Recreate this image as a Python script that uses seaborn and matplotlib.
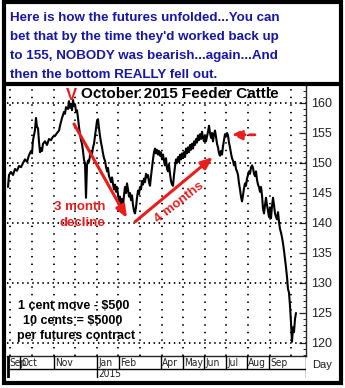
import numpy as np
import pandas as pd
import matplotlib
matplotlib.use("Agg")
import matplotlib.pyplot as plt
from matplotlib.patches import Rectangle
from matplotlib.lines import Line2D
from matplotlib import font_manager
from matplotlib.font_manager import FontProperties
import seaborn as sns

# ---- data: October 2015 Feeder Cattle, daily trading index vs price ----
trade_day = [0, 1, 3, 5, 7, 9, 11, 13, 15, 17, 19, 21, 23, 24, 25, 27, 28, 29, 30, 31,
             32, 33, 34, 35, 37, 39, 41, 43, 45, 47, 49, 51, 52, 54, 56, 57, 58, 60, 61, 62,
             63, 64, 65, 66, 67, 68, 69, 70, 71, 72, 73, 74, 75, 76, 77, 78, 79, 80, 81, 82,
             83, 84, 85, 86, 87, 88, 89, 90, 91, 92, 93, 94, 95, 96, 97, 98, 99, 100, 101, 102,
             103, 104, 105, 106, 107, 108, 109, 110, 111, 112, 113, 114, 115, 116, 117, 118, 119, 120, 121, 122,
             123, 124, 125, 126, 127, 128, 129, 130, 131, 132, 133, 134, 135, 136, 137, 138, 139, 140, 141, 142,
             143, 144, 145, 146, 147, 148, 149, 150, 151, 152, 153, 154, 155, 156, 157, 158, 159, 160, 161, 162,
             163, 164, 165, 166, 167, 168, 169, 170, 171, 172, 173, 174, 175, 176, 177, 178, 179, 180, 181, 182,
             183, 184, 185, 186, 187, 188, 189, 190, 191, 192, 193, 194, 195, 196, 197, 198, 199, 200, 201, 202,
             203, 204, 205, 206, 207, 208, 209, 210, 211, 212, 213, 214, 215, 216, 217, 218, 219, 220, 221, 222,
             223, 224, 225, 226, 227, 228, 229, 230, 231, 232, 233, 234, 235, 236, 237, 238, 239, 240, 241, 242,
             243, 244, 245, 246, 247, 248, 249, 250, 251, 252, 253, 254, 255, 256, 257, 258, 259, 260, 261, 262,
             263, 264, 265, 266, 267, 268, 269, 270, 271, 272, 273, 274, 275, 276, 277, 278, 279, 280, 281, 282,
             283, 284, 285, 286, 287, 288]
price = [146.0, 148.0, 148.5, 148.0, 149.0, 148.7, 149.5, 149.3, 150.0, 150.6, 150.2, 151.3, 152.0, 151.6, 153.8, 155.5, 157.5, 156.0, 155.8, 153.5,
         151.8, 152.5, 152.0, 153.2, 153.6, 153.0, 154.0, 153.8, 154.4, 154.5, 155.0, 155.4, 156.2, 157.5, 158.5, 158.2, 159.3, 159.0, 160.3, 159.2,
         159.8, 158.8, 160.5, 159.5, 159.8, 158.6, 158.8, 157.5, 156.0, 154.8, 153.8, 153.2, 152.0, 150.5, 150.0, 144.2, 149.6, 150.4, 150.2, 151.2,
         152.0, 151.5, 152.6, 153.2, 154.5, 155.8, 157.0, 157.3, 155.8, 154.5, 153.4, 152.6, 151.6, 150.8, 150.4, 149.4, 148.6, 149.2, 147.8, 147.4,
         146.8, 147.6, 146.5, 145.6, 146.4, 145.2, 146.0, 144.8, 143.6, 144.4, 143.2, 144.0, 142.8, 144.6, 146.0, 145.0, 146.6, 145.6, 144.4, 145.0,
         143.8, 144.6, 143.0, 142.0, 141.6, 142.6, 144.2, 145.4, 144.8, 146.0, 145.6, 147.0, 146.4, 147.4, 146.8, 148.2, 147.6, 148.0, 146.8, 146.2,
         147.8, 149.2, 150.6, 151.8, 152.4, 151.6, 152.2, 151.4, 152.0, 151.2, 151.8, 150.6, 151.4, 150.4, 149.6, 150.8, 149.0, 148.6, 149.8, 148.2,
         147.0, 146.4, 146.2, 148.0, 149.4, 150.6, 150.0, 151.0, 150.2, 151.4, 150.6, 151.6, 150.8, 151.8, 151.0, 152.4, 151.6, 152.6, 151.8, 153.0,
         152.2, 153.2, 152.4, 153.6, 153.0, 154.0, 153.4, 154.6, 153.8, 154.8, 154.0, 155.2, 154.2, 153.6, 154.6, 153.6, 154.4, 155.2, 156.2, 155.0,
         154.2, 155.0, 153.6, 154.8, 155.4, 154.4, 153.2, 152.6, 151.6, 151.2, 152.0, 151.4, 152.8, 153.8, 154.8, 154.4, 155.0, 154.6, 153.4, 152.6,
         151.6, 150.8, 150.4, 149.6, 150.2, 149.0, 148.6, 148.0, 146.6, 145.6, 144.4, 143.6, 144.6, 145.8, 146.6, 146.2, 147.4, 148.0, 148.6, 148.2,
         149.2, 149.6, 149.2, 148.2, 147.8, 148.6, 147.2, 146.4, 146.0, 145.2, 146.0, 144.6, 142.4, 141.6, 143.0, 144.2, 143.0, 142.0, 141.0, 142.6,
         140.8, 142.8, 144.2, 143.0, 141.6, 141.0, 140.6, 141.8, 140.2, 139.0, 138.4, 137.6, 136.6, 135.4, 134.0, 132.6, 131.0, 129.0, 128.4, 126.2,
         123.4, 120.2, 122.6, 121.8, 124.0, 125.0]

month_labels = ["Sep", "Oct", "Nov", "Jan", "Feb", "Apr", "May", "Jun", "Jul", "Aug", "Sep"]
month_pos = [0, 12, 46, 89, 111, 153, 175, 196, 218, 239, 261]
year_label = "2015"
year_pos = 89
grid_x = [2.4, 24, 45.6, 67.2, 88.8, 110.4, 132, 153.6, 175.2, 196.8, 218.4, 240, 261.6, 283.2]
grid_y = [120, 130, 140, 150, 160]
price_ticks = [120, 125, 130, 135, 140, 145, 150, 155, 160]

headline = ["Here is how the futures unfolded...You can",
            "bet that by the time they'd worked back up",
            "to 155, NOBODY was bearish...again...And",
            "then the bottom REALLY fell out."]

df = pd.DataFrame({"day": trade_day, "price": price})

sns.set_style("white")
plt.rcParams["font.family"] = ["Liberation Sans", "DejaVu Sans"]


def narrow_font(size):
    """Pick a condensed/narrow regular face for the crowded month row."""
    for f in font_manager.fontManager.ttflist:
        tag = (f.name + " " + str(f.stretch)).lower()
        if ("narrow" in tag or "condensed" in tag) and f.weight in (400, "normal", "regular") \
                and f.style == "normal":
            return FontProperties(fname=f.fname, size=size), True
    return FontProperties(family="Liberation Sans", size=size - 1.3), False


W, H = 345, 388
fig = plt.figure(figsize=(W / 100, H / 100), dpi=100)
fig.patch.set_facecolor("white")


def fx(px):
    return px / W


def fy(py):
    return 1 - py / H


RED = "#ec1c1c"
BLUE = "#1717a6"

# main price panel
ax = fig.add_axes([fx(7), fy(356), fx(306) - fx(7), fy(86) - fy(356)])
ax.set_xlim(-1, 298)
ax.set_ylim(117.83, 162.83)
ax.vlines(grid_x, 117.83, 162.83, colors="black", linewidths=1.3,
          linestyles=[(0, (0.8, 3.4))], zorder=2)
ax.hlines(grid_y, -1, 298, colors="black", linewidths=1.3,
          linestyles=[(0, (0.8, 2.0))], zorder=2)

sns.lineplot(data=df, x="day", y="price", ax=ax, color="black", linewidth=1.5,
             estimator=None, sort=False, zorder=3)
ax.set_xlim(-1, 298)
ax.set_ylim(117.83, 162.83)
ax.set_xlabel("")
ax.set_ylabel("")

ax.yaxis.tick_right()
ax.set_yticks(price_ticks)
ax.set_yticks(np.arange(118, 163, 1), minor=True)
ax.tick_params(axis="y", which="major", direction="in", length=5, width=0.9,
               labelsize=9, labelcolor="#222222", pad=4)
ax.tick_params(axis="y", which="minor", direction="in", length=2.5, width=0.7)
ax.set_xticks([])
for side in ["left", "top"]:
    ax.spines[side].set_visible(False)
ax.spines["right"].set_linewidth(1.0)
ax.spines["bottom"].set_linewidth(1.0)

# annotations
ax.text(63, 161.3, "V", color=RED, fontsize=12, fontweight="bold", ha="center", va="center")
ax.text(73, 161.5, "October 2015 Feeder Cattle", color="black", fontsize=11,
        fontweight="bold", ha="left", va="center")
ax.annotate("", xy=(119, 140.8), xytext=(66, 156.5),
            arrowprops=dict(arrowstyle="-|>,head_length=0.7,head_width=0.28", color=RED,
                            lw=2.2, shrinkA=0, shrinkB=0))
ax.annotate("", xy=(205, 151.0), xytext=(127, 140.2),
            arrowprops=dict(arrowstyle="-|>,head_length=0.7,head_width=0.28", color=RED,
                            lw=2.2, shrinkA=0, shrinkB=0))
ax.annotate("", xy=(224, 154.7), xytext=(247, 154.7),
            arrowprops=dict(arrowstyle="-|>,head_length=0.6,head_width=0.3", color=RED,
                            lw=2.0, ls=(0, (2, 1.5)), shrinkA=0, shrinkB=0))
ax.text(72, 142.6, "3 month", color=RED, fontsize=9.5, fontweight="bold", ha="center", va="center")
ax.text(74, 140.0, "decline", color=RED, fontsize=9.5, fontweight="bold", ha="center", va="center")
ax.text(171, 143.4, "4 months", color=RED, fontsize=9.5, fontweight="bold", ha="center",
        va="center", rotation=38, rotation_mode="anchor")
ax.text(10, 126.2, "1 cent move - $500", color="black", fontsize=9, fontweight="bold",
        ha="left", va="center")
ax.text(15, 123.7, "10 cents = $5000", color="black", fontsize=9, fontweight="bold",
        ha="left", va="center")
ax.text(9, 121.2, "per futures contract", color="black", fontsize=9, fontweight="bold",
        ha="left", va="center")

# date band below the price panel
month_fp, is_narrow = narrow_font(7.3)
band = fig.add_axes([fx(7), fy(378), fx(306) - fx(7), fy(356) - fy(378)], sharex=ax)
band.set_ylim(0, 22)
band.axis("off")
band.axhline(9, color="black", lw=1.0)
band.axvline(298, color="black", lw=1.0)
for lab, pos in zip(month_labels, month_pos):
    band.plot([pos, pos], [9, 22], color="black", lw=1.0)
    fp = month_fp
    offset = 1.0
    if not is_narrow:
        if pos == 0:
            fp = FontProperties(family="Liberation Sans", size=4.0)
            offset = 0.4
        elif pos == 12:
            offset = 2.6
    band.text(pos + offset, 15.3, lab, fontproperties=fp, ha="left",
              va="center", color="#222222")
band.plot([year_pos, year_pos], [0, 9], color="black", lw=1.0)
band.text(year_pos + 1, 4.3, year_label, fontproperties=month_fp, ha="left", va="center",
          color="#222222")
band.plot([0, 0], [0, 22], color="black", lw=2.0)
fig.text(fx(322), fy(365), "Day", fontsize=8, ha="center", va="center", color="#222222")

# headline box
for i, line in enumerate(headline):
    fig.text(fx(10), fy(18 + i * 19), line, color=BLUE, fontsize=9.6, fontweight="bold",
             ha="left", va="center")
fig.add_artist(Line2D([fx(4), fx(341)], [fy(84), fy(84)], color="black", lw=3.0))
fig.add_artist(Rectangle((fx(4), fy(383)), fx(341) - fx(4), fy(2) - fy(383), fill=False,
                         edgecolor="black", lw=3.0))

fig.savefig("out.png", dpi=100)
